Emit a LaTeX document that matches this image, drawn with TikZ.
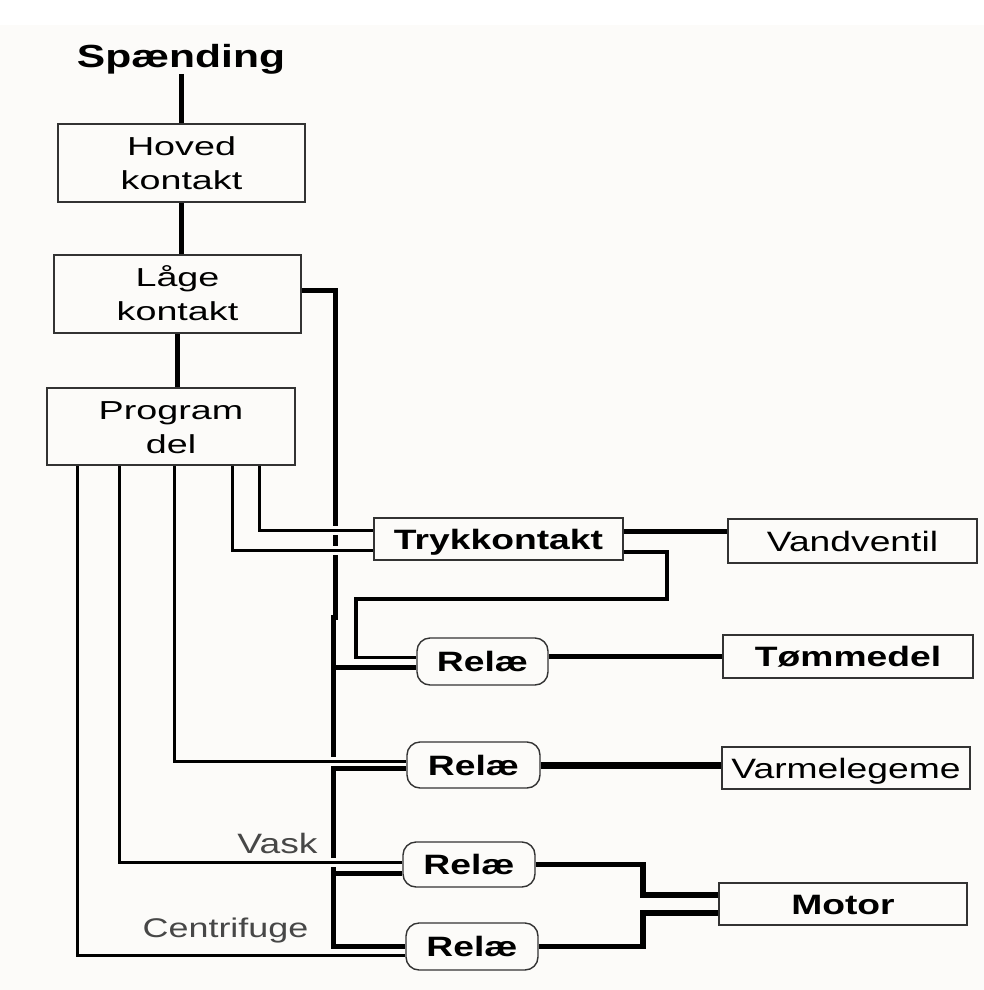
\documentclass[tikz,border=0pt]{standalone}
\usepackage{fontspec}
\setmainfont{Liberation Sans}
\newfontfamily\fA[FakeStretch=1.33]{Liberation Sans}
\newfontfamily\fB[FakeStretch=1.45]{Liberation Sans}
\usetikzlibrary{calc}
\definecolor{bgc}{HTML}{FCFBF9}
\pgfdeclarelayer{back}
\pgfdeclarelayer{wires}
\pgfsetlayers{back,wires,main}
\begin{document}
\begin{tikzpicture}[x=1pt,y=-1pt,
  box/.style={draw=black!80, line width=1.4pt, inner sep=0pt, text height=20pt, text depth=0pt,
    font={\fA\fontsize{28}{34}\selectfont}},
  boldbox/.style={box, font={\fA\bfseries\fontsize{28}{34}\selectfont}},
  relay/.style={boldbox, rounded corners=13pt, minimum width=132pt, minimum height=46pt},
  tbox/.style={box, text height=19pt, text depth=34pt, font={\fB\fontsize{26}{34}\selectfont}},
  note/.style={inner sep=0pt, text=black!72, font={\fA\fontsize{28}{34}\selectfont}},
  buswire/.style={line width=5pt},
  feedwire/.style={line width=5pt},
  sigwire/.style={line width=3pt, preaction={draw=bgc, line width=9pt}},
  loopwire/.style={line width=3.4pt},
  outwire/.style={line width=5pt}
]
\begin{pgfonlayer}{back}
\fill[white] (0,0) rectangle (984,990);
\fill[bgc] (0,25) rectangle (984,990);
\end{pgfonlayer}
\useasboundingbox (0,0) rectangle (984,990);

% nodes
\node[inner sep=0pt, anchor=base, font={\fA\bfseries\fontsize{32}{38}\selectfont}] (sp) at (181,67) {Spænding};
\node[tbox, minimum width=247pt, minimum height=78pt] (hk) at (181.5,163)
  {\begin{tabular}[t]{@{}c@{}}Hoved\\kontakt\end{tabular}};
\node[tbox, minimum width=247pt, minimum height=78pt] (lk) at (177.5,294)
  {\begin{tabular}[t]{@{}c@{}}Låge\\kontakt\end{tabular}};
\node[tbox, minimum width=248pt, minimum height=77pt] (pd) at (171,426.5)
  {\begin{tabular}[t]{@{}c@{}}Program\\del\end{tabular}};
\node[boldbox, minimum width=249pt, minimum height=42pt] (tk) at (498.5,539) {Trykkontakt};
\node[box, minimum width=249pt, minimum height=44pt] (vv) at (852.5,541) {Vandventil};
\node[relay, minimum width=131pt, minimum height=47pt] (r1) at (482.5,661.5) {Relæ};
\node[boldbox, minimum width=250pt, minimum height=43pt] (tm) at (848,656.5) {Tømmedel};
\node[relay, minimum width=133pt] (r2) at (473.5,765) {Relæ};
\node[box, minimum width=248pt, minimum height=42pt] (vm) at (846,768) {Varmelegeme};
\node[relay, minimum height=45pt] (r3) at (469,864.5) {Relæ};
\node[relay, minimum height=47pt] (r4) at (472,946.5) {Relæ};
\node[boldbox, minimum width=248pt, minimum height=42pt] (mo) at (843,904) {Motor};
\node[note, anchor=base] (vask) at (277.5,853) {Vask};
\node[note, anchor=base, font={\fA\fontsize{27}{33}\selectfont}] (cf) at (225.5,937) {Centrifuge};

% helper coordinates
\coordinate (x77) at (77,0);
\coordinate (x119) at (119,0);
\coordinate (x174) at (174,0);
\coordinate (x232) at (232,0);
\coordinate (x259) at (259,0);
\coordinate (xM) at (643,0);
\coordinate (xL1) at (667,0);
\coordinate (xL2) at (356,0);
\coordinate (yL) at (0,599);
\coordinate (jogA) at (335,617);
\coordinate (jogB) at (333,617);

\begin{pgfonlayer}{wires}
% supply chain
\draw[buswire] (sp.south) -- (sp.south |- hk.north);
\draw[buswire] (hk.south) -- (hk.south |- lk.north);
\draw[line width=4.6pt] (lk.south) -- (lk.south |- pd.north);
% bus
\draw[buswire] ([yshift=4pt]lk.east) -| (jogA) -- (jogB) -- (jogB |- r4.west) -- (r4.west);
% program signals
\draw[sigwire] (pd.south -| x259) |- ([yshift=9pt]tk.west);
\draw[sigwire] (pd.south -| x232) |- ([yshift=-11pt]tk.west);
\draw[sigwire] (pd.south -| x174) |- ([yshift=4pt]r2.west);
\draw[sigwire] (pd.south -| x119) |- ([yshift=2.5pt]r3.west);
\draw[sigwire] (pd.south -| x77) |- ([yshift=-8.5pt]r4.west);
% relay feeds from bus
\coordinate (f1) at ([yshift=-5.5pt]r1.west);
\coordinate (f2) at ([yshift=-3pt]r2.west);
\coordinate (f3) at ([yshift=-8.5pt]r3.west);
\draw[feedwire] (f1 -| jogB) -- (f1);
\draw[feedwire] (f2 -| jogB) -- (f2);
\draw[feedwire] (f3 -| jogB) -- (f3);
% pressure switch loop to relay 1
\coordinate (l0) at ([yshift=-13pt]tk.east);
\coordinate (l1) at ([yshift=4pt]r1.west);
\draw[loopwire] (l0) -| (xL1 |- yL) -| (xL2 |- l1) -- (l1);
% outputs
\coordinate (t1) at ([yshift=7.5pt]tk.east);
\draw[outwire] (t1) -- (t1 -| vv.west);
\draw[line width=4.6pt] (r1.east |- tm.west) -- (tm.west);
\draw[line width=7pt] (r2.east) -- (r2.east -| vm.west);
\coordinate (m1) at ([yshift=9pt]mo.west);
\coordinate (m2) at ([yshift=-9pt]mo.west);
\draw[line width=5.5pt] (r3.east) -| (xM |- m1) -- (m1);
\draw[line width=5.5pt] (r4.east) -| (xM |- m2) -- (m2);
\end{pgfonlayer}
\end{tikzpicture}
\end{document}
